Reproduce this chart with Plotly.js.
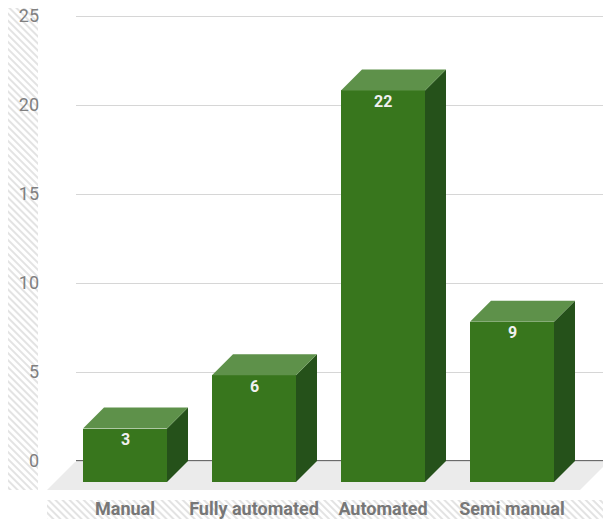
<!DOCTYPE html>
<html>
<head>
<meta charset="utf-8">
<script src="https://cdn.plot.ly/plotly-3.0.1.min.js"></script>
<style>html,body{margin:0;padding:0;background:#fff;}#chart{width:603px;height:519px;}</style>
</head>
<body>
<div id="chart"></div>
<script>
// ---- data ----
const categories = ["Manual", "Fully automated", "Automated", "Semi manual"];
const values = [3, 6, 22, 9];
const yTickValues = [0, 5, 10, 15, 20, 25];
const yTickLabels = ["0", "5", "10", "15", "20", "25"];

// ---- geometry (pixels) ----
const W = 603, H = 519;
const L = 76, R = 0, T = 0, B = 27;
const plotW = W - L - R, plotH = H - T - B;
const pxPerCat = 129, pxPerUnit = 17.8;
const firstCenterPx = 125, frontZeroPx = 482;
const depthPx = 21, barPx = 84;

const xr0 = -(firstCenterPx - L) / pxPerCat;
const xr1 = xr0 + plotW / pxPerCat;
const yr0 = -(T + plotH - frontZeroPx) / pxPerUnit;
const yr1 = (frontZeroPx - T) / pxPerUnit;
const dx = depthPx / pxPerCat, dy = depthPx / pxPerUnit, bw = barPx / pxPerCat;

const idx = categories.map((_, i) => i);
const px2paperX = p => (p - L) / plotW;
const px2paperY = p => (T + plotH - p) / plotH;

const frontCol = "#38761d", topCol = "#5e914a", sideCol = "#25511a";

const traces = [];
// side and top faces
idx.forEach(i => {
  const v = values[i];
  traces.push({type: "scatter", mode: "lines", fill: "toself", fillcolor: sideCol,
    line: {width: 0, color: sideCol}, hoverinfo: "skip", showlegend: false,
    x: [i + bw/2, i + bw/2, i + bw/2 + dx, i + bw/2 + dx, i + bw/2],
    y: [0, v, v + dy, dy, 0]});
  traces.push({type: "scatter", mode: "lines", fill: "toself", fillcolor: topCol,
    line: {width: 0, color: topCol}, hoverinfo: "skip", showlegend: false,
    x: [i - bw/2, i + bw/2, i + bw/2 + dx, i - bw/2 + dx, i - bw/2],
    y: [v, v, v + dy, v + dy, v]});
});
// front faces
traces.push({type: "bar", x: idx, y: values, width: bw, marker: {color: frontCol, line: {width: 0}},
  hoverinfo: "skip", showlegend: false});

// value labels
const annotations = idx.map(i => ({
  x: i, y: values[i], xref: "x", yref: "y", text: String(values[i]), showarrow: false,
  yanchor: "middle", xanchor: "center", yshift: -11,
  font: {family: "Roboto", size: 16, color: "#f0f0f0", weight: 700}
}));

// hatch pattern image
function hatchSvg(w, h) {
  const s = `<svg xmlns="http://www.w3.org/2000/svg" width="${w}" height="${h}">` +
    `<defs><pattern id="p" width="5" height="5" patternUnits="userSpaceOnUse" patternTransform="rotate(-45)">` +
    `<rect x="0" y="0" width="2" height="5" fill="#e3e3e3"/></pattern></defs>` +
    `<rect width="${w}" height="${h}" fill="url(#p)"/></svg>`;
  return "data:image/svg+xml;base64," + btoa(s);
}
const images = [
  {source: hatchSvg(30, 482), xref: "paper", yref: "paper",
   x: px2paperX(8), y: px2paperY(8), sizex: 30 / plotW, sizey: 482 / plotH,
   xanchor: "left", yanchor: "top", sizing: "stretch", layer: "below"},
  {source: hatchSvg(556, 19), xref: "paper", yref: "paper",
   x: px2paperX(47), y: px2paperY(500), sizex: 556 / plotW, sizey: 19 / plotH,
   xanchor: "left", yanchor: "top", sizing: "stretch", layer: "below"}
];

// floor
const fx = [47, 580, 608, 75].map(px2paperX);
const fy = [490, 490, 462, 462].map(px2paperY);
const floorPath = `M${fx[0]},${fy[0]} L${fx[1]},${fy[1]} L${fx[2]},${fy[2]} L${fx[3]},${fy[3]} Z`;

const layout = {
  width: W, height: H,
  margin: {l: L, r: R, t: T, b: B, pad: 0},
  paper_bgcolor: "rgba(0,0,0,0)", plot_bgcolor: "rgba(0,0,0,0)",
  font: {family: "Roboto", color: "#757575"},
  bargap: 0,
  xaxis: {range: [xr0, xr1], tickvals: idx, ticktext: categories, showgrid: false, zeroline: false,
    showline: false, ticks: "", ticklabelstandoff: 4, fixedrange: true,
    tickfont: {family: "Roboto", size: 18, color: "#777777", weight: 700}},
  yaxis: {range: [yr0, yr1], tickvals: yTickValues.map(v => v + dy), ticktext: yTickLabels,
    showgrid: true, gridcolor: "#d6d6d6", gridwidth: 1, zeroline: false, showline: false,
    ticks: "", ticklabelstandoff: 36, fixedrange: true,
    tickfont: {family: "Roboto", size: 18, color: "#808080"}},
  images: images,
  annotations: annotations,
  shapes: [
    {type: "path", path: floorPath, xref: "paper", yref: "paper", fillcolor: "#ebebeb",
     line: {width: 0}, layer: "below"},
    {type: "line", xref: "paper", yref: "y", x0: 0, x1: 1, y0: dy, y1: dy,
     line: {color: "#6b6b6b", width: 2}, layer: "between"}
  ]
};

Plotly.newPlot("chart", traces, layout, {staticPlot: true, displayModeBar: false});
</script>
</body>
</html>
